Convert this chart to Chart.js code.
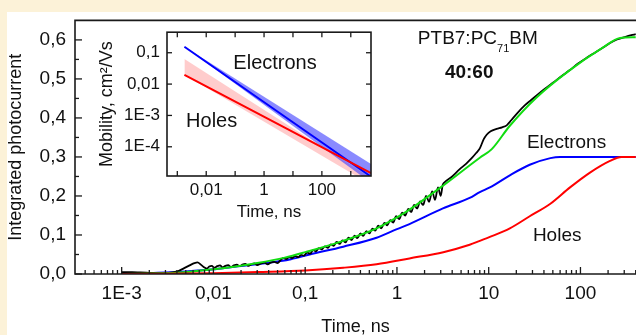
<!DOCTYPE html>
<html><head><meta charset="utf-8">
<script src="https://cdn.jsdelivr.net/npm/chart.js@4.4.1/dist/chart.umd.min.js"></script>
<style>
html,body{margin:0;padding:0;background:#fcf2d8;width:636px;height:335px;overflow:hidden;}
#main{position:absolute;left:0;top:0;width:636px;height:335px;}
#inset{position:absolute;left:95px;top:15px;width:285px;height:210px;}
</style></head><body>
<canvas id="main" width="636" height="335"></canvas>
<canvas id="inset" width="285" height="210"></canvas>
<script>
// ---------- main plot data (time in ns, integrated photocurrent) ----------
const electronsT = [0.001, 0.002, 0.004, 0.007, 0.01, 0.016, 0.038, 0.07, 0.112, 0.26, 0.6, 1, 1.37, 3.17, 6.2, 8, 10.3, 17, 28, 47, 60, 100, 400];
const electronsQ = [0.0, 0.002, 0.005, 0.009, 0.012, 0.018, 0.028, 0.038, 0.05, 0.07, 0.093, 0.115, 0.128, 0.168, 0.195, 0.21, 0.222, 0.253, 0.28, 0.297, 0.30, 0.30, 0.30];

const holesT = [0.001, 0.01, 0.03, 0.1, 0.26, 0.6, 1.37, 3.2, 6.2, 8, 10.3, 17, 28, 47, 77, 127, 210, 280, 400];
const holesQ = [0.0, 0.002, 0.005, 0.009, 0.016, 0.025, 0.04, 0.056, 0.075, 0.085, 0.095, 0.117, 0.148, 0.18, 0.222, 0.26, 0.29, 0.30, 0.30];

const fitT = [0.001, 0.004, 0.01, 0.016, 0.03, 0.06, 0.1, 0.26, 0.6, 1, 1.37, 3.2, 8, 10.8, 17, 33, 76, 175, 270, 400];
const fitQ = [0.0, 0.003, 0.012, 0.018, 0.028, 0.042, 0.056, 0.085, 0.117, 0.145, 0.165, 0.227, 0.298, 0.32, 0.38, 0.452, 0.522, 0.58, 0.605, 0.607];

const expT = [0.001, 0.0013, 0.0016, 0.002, 0.0025, 0.003, 0.0036, 0.0042, 0.0048, 0.0055, 0.0062, 0.0067, 0.0073, 0.0078, 0.0085, 0.009, 0.0096, 0.0102, 0.011, 0.0118, 0.0126, 0.0135, 0.0145, 0.0155, 0.0167, 0.018, 0.0193, 0.0207, 0.0222, 0.024, 0.026, 0.028, 0.03, 0.033, 0.036, 0.039, 0.042, 0.046, 0.05, 0.054, 0.058, 0.062, 0.067, 0.072, 0.078, 0.084, 0.09, 0.097, 0.105, 0.113, 0.122, 0.131, 0.141, 0.152, 0.164, 0.177, 0.19, 0.205, 0.22, 0.237, 0.255, 0.275, 0.296, 0.32, 0.345, 0.37, 0.4, 0.43, 0.465, 0.5, 0.54, 0.58, 0.625, 0.675, 0.73, 0.785, 0.845, 0.91, 0.98, 1.06, 1.14, 1.23, 1.33, 1.43, 1.54, 1.66, 1.79, 1.93, 2.08, 2.24, 2.42, 2.6, 2.8, 3.0, 3.15, 3.3, 4.0, 4.8, 5.7, 6.6, 7.3, 8.0, 8.8, 9.5, 10.5, 12.2, 14, 15.7, 17, 18.3, 21, 24.7, 29, 33, 40, 50, 62, 76, 95, 120, 145, 175, 210, 250, 310, 400];
const expQ = [0.005, 0.005, 0.004, 0.003, 0.002, 0.002, 0.004, 0.008, 0.015, 0.022, 0.028, 0.03, 0.024, 0.018, 0.014, 0.019, 0.021, 0.016, 0.02, 0.022, 0.017, 0.021, 0.023, 0.018, 0.022, 0.024, 0.02, 0.024, 0.026, 0.021, 0.025, 0.027, 0.023, 0.027, 0.029, 0.025, 0.029, 0.031, 0.028, 0.036, 0.041, 0.038, 0.043, 0.041, 0.046, 0.043, 0.049, 0.047, 0.055, 0.052, 0.061, 0.058, 0.066, 0.063, 0.071, 0.067, 0.076, 0.072, 0.082, 0.077, 0.086, 0.081, 0.093, 0.087, 0.098, 0.092, 0.104, 0.098, 0.11, 0.104, 0.116, 0.111, 0.124, 0.117, 0.131, 0.125, 0.138, 0.132, 0.148, 0.141, 0.157, 0.15, 0.167, 0.159, 0.177, 0.168, 0.186, 0.177, 0.2, 0.185, 0.212, 0.19, 0.222, 0.2, 0.228, 0.235, 0.25, 0.268, 0.283, 0.298, 0.31, 0.322, 0.345, 0.357, 0.366, 0.372, 0.376, 0.381, 0.39, 0.399, 0.415, 0.432, 0.446, 0.457, 0.473, 0.49, 0.507, 0.522, 0.54, 0.556, 0.568, 0.58, 0.592, 0.601, 0.608, 0.615];

const mainXTicks = [0.001, 0.01, 0.1, 1, 10, 100];
const mainXLabels = ['1E-3', '0,01', '0,1', '1', '10', '100'];
const mainYTicks = [0, 0.1, 0.2, 0.3, 0.4, 0.5, 0.6];
const mainYLabels = ['0,0', '0,1', '0,2', '0,3', '0,4', '0,5', '0,6'];

// ---------- inset data (mobility, cm2/Vs vs time, ns) ----------
const insetT = [0.00176, 5000];
const muElectrons = [0.155, 1.12e-5];
const muElectronsHi = [0.155, 2.8e-5];
const muElectronsLo = [0.155, 7.1e-6];
const muHoles = [0.0197, 1.45e-5];
const muHolesHi = [0.063, 1.0e-5];
const muHolesLo = [0.0197, 6.2e-6];

const insetXTicks = [0.01, 1, 100];
const insetXLabels = ['0,01', '1', '100'];
const insetYTicks = [0.1, 0.01, 0.001, 0.0001];
const insetYLabels = ['0,1', '0,01', '1E-3', '1E-4'];

// ---------- helpers ----------
const FONT = '"Liberation Sans", Arial, Helvetica, sans-serif';
const INK = '#111';
const pts = (ts, vs) => ts.map((t, i) => ({x: t, y: vs[i]}));
function lineDs(label, ts, vs, color, width, order) {
  return {label, data: pts(ts, vs), borderColor: color, borderWidth: width, showLine: true,
    pointRadius: 0, fill: false, cubicInterpolationMode: 'monotone', order};
}
function tick(ctx, x1, y1, x2, y2) { ctx.beginPath(); ctx.moveTo(x1, y1); ctx.lineTo(x2, y2); ctx.stroke(); }
function drawParts(ctx, x, y, parts) {
  let cx = x;
  for (const [txt, size, dy, weight] of parts) {
    ctx.font = (weight ? weight + ' ' : '') + size + 'px ' + FONT;
    ctx.fillText(txt, cx, y + dy);
    cx += ctx.measureText(txt).width;
  }
}

// ---------- main chart ----------
const mainDecor = {
  id: 'mainDecor',
  beforeDraw(chart) {
    const ctx = chart.ctx;
    ctx.save();
    ctx.fillStyle = '#fcf2d8';
    ctx.fillRect(0, 0, chart.width, chart.height);
    ctx.fillStyle = '#ffffff';
    ctx.fillRect(7, 12, chart.width - 7, chart.height - 12);
    ctx.restore();
  },
  afterDatasetsDraw(chart) {
    const {ctx, chartArea: a, scales: {x, y}} = chart;
    ctx.save();
    ctx.strokeStyle = '#1a1a1a';
    ctx.lineWidth = 1.6;
    ctx.beginPath();
    ctx.moveTo(a.right + 2, a.top); ctx.lineTo(a.left, a.top);
    ctx.lineTo(a.left, a.bottom); ctx.lineTo(a.right + 2, a.bottom);
    ctx.stroke();
    ctx.lineWidth = 1.3;
    for (const v of mainYTicks) {
      const py = y.getPixelForValue(v);
      tick(ctx, a.left, py, a.left + 7, py);
      const pm = y.getPixelForValue(v + 0.05);
      if (pm > a.top) tick(ctx, a.left, pm, a.left + 4, pm);
    }
    for (let d = -4; d <= 2; d++) {
      for (let k = 1; k <= 9; k++) {
        const v = k * Math.pow(10, d);
        if (v < x.min || v > x.max) continue;
        const px = x.getPixelForValue(v);
        tick(ctx, px, a.bottom, px, a.bottom - (k === 1 ? 7 : 4));
      }
    }
    ctx.restore();
  },
  afterDraw(chart) {
    const {ctx, scales: {x, y}} = chart;
    ctx.save();
    ctx.fillStyle = INK;
    ctx.textBaseline = 'alphabetic';
    ctx.textAlign = 'left';
    const notes = [
      {t: 1.69, q: 0.589, parts: [['PTB7:PC', 19, 0, ''], ['71', 11, 8, ''], ['BM', 19, 0, '']]},
      {t: 3.33, q: 0.503, parts: [['40:60', 19, 0, 'bold']]},
      {t: 26.1, q: 0.324, parts: [['Electrons', 19, 0, '']]},
      {t: 30.3, q: 0.085, parts: [['Holes', 19, 0, '']]}
    ];
    for (const n of notes) drawParts(ctx, x.getPixelForValue(n.t), y.getPixelForValue(n.q), n.parts);
    ctx.restore();
  }
};

new Chart(document.getElementById('main'), {
  type: 'scatter',
  data: {datasets: [
    lineDs('Experiment', expT, expQ, '#000000', 1.8, 2),
    lineDs('Fit', fitT, fitQ, '#11dd11', 2, 1),
    lineDs('Electrons', electronsT, electronsQ, '#0000ff', 2, 3),
    lineDs('Holes', holesT, holesQ, '#ff0000', 2, 0)
  ]},
  options: {
    responsive: false, animation: false, devicePixelRatio: 1,
    layout: {padding: {left: 0, top: 14, right: 0, bottom: 0}},
    plugins: {legend: {display: false}, tooltip: {enabled: false}},
    scales: {
      x: {
        type: 'logarithmic', min: 3.1e-4, max: 403, bounds: 'data',
        afterBuildTicks(s) { s.ticks = mainXTicks.map(v => ({value: v})); },
        afterFit(s) { s.height = 61; },
        grid: {display: false, drawTicks: false}, border: {display: false},
        ticks: {autoSkip: false, maxRotation: 0, padding: 8, color: INK,
          font: {family: FONT, size: 19}, callback: (v, i) => mainXLabels[i]},
        title: {display: true, text: 'Time, ns', color: INK,
          font: {family: FONT, size: 18, lineHeight: 0.9}, padding: {top: 0, bottom: 0}}
      },
      y: {
        type: 'linear', min: 0, max: 0.65, bounds: 'data',
        afterBuildTicks(s) { s.ticks = mainYTicks.map(v => ({value: v})); },
        afterFit(s) { s.width = 75; },
        grid: {display: false, drawTicks: false}, border: {display: false},
        ticks: {autoSkip: false, padding: 9, color: INK,
          font: {family: FONT, size: 19}, callback: (v, i) => mainYLabels[i]},
        title: {display: true, text: 'Integrated photocurrent', color: INK,
          font: {family: FONT, size: 18, lineHeight: 1}, padding: {top: 7, bottom: 0}}
      }
    }
  },
  plugins: [mainDecor]
});

// ---------- inset chart ----------
const insetDecor = {
  id: 'insetDecor',
  beforeDatasetsDraw(chart) {
    const {ctx, chartArea: a} = chart;
    ctx.save();
    ctx.fillStyle = '#ffffff';
    ctx.fillRect(a.left, a.top, a.right - a.left, a.bottom - a.top);
    ctx.restore();
  },
  afterDatasetsDraw(chart) {
    const {ctx, chartArea: a, scales: {x, y}} = chart;
    ctx.save();
    ctx.strokeStyle = '#1a1a1a';
    ctx.lineWidth = 1.6;
    ctx.strokeRect(a.left, a.top, a.right - a.left, a.bottom - a.top);
    ctx.lineWidth = 1.3;
    for (const v of [0.1, 0.01, 0.001, 0.0001]) {
      const py = y.getPixelForValue(v);
      if (py < a.top || py > a.bottom) continue;
      tick(ctx, a.left, py, a.left + 5, py);
      tick(ctx, a.right, py, a.right - 5, py);
    }
    for (let d = -3; d <= 3; d++) {
      const v = Math.pow(10, d);
      const px = x.getPixelForValue(v);
      if (px < a.left || px > a.right) continue;
      tick(ctx, px, a.bottom, px, a.bottom - 5);
      tick(ctx, px, a.top, px, a.top + 5);
    }
    ctx.restore();
  },
  afterDraw(chart) {
    const {ctx, scales: {x, y}} = chart;
    ctx.save();
    ctx.fillStyle = INK;
    ctx.textBaseline = 'alphabetic';
    ctx.textAlign = 'left';
    const notes = [
      {t: 0.0869, m: 0.0297, parts: [['Electrons', 20, 0, '']]},
      {t: 0.00201, m: 4.16e-4, parts: [['Holes', 20, 0, '']]}
    ];
    for (const n of notes) drawParts(ctx, x.getPixelForValue(n.t), y.getPixelForValue(n.m), n.parts);
    ctx.restore();
  }
};

function bandDs(ts, vs, color, fill, order) {
  return {data: pts(ts, vs), borderWidth: 0, borderColor: 'rgba(0,0,0,0)', backgroundColor: color,
    showLine: true, pointRadius: 0, fill, order};
}

new Chart(document.getElementById('inset'), {
  type: 'scatter',
  data: {datasets: [
    lineDs('Holes', insetT, muHoles, '#ff0000', 2, 0),
    lineDs('Electrons', insetT, muElectrons, '#0000ff', 2, 1),
    bandDs(insetT, muElectronsHi, 'rgba(60,60,255,0.6)', '+1', 2),
    bandDs(insetT, muElectronsLo, 'rgba(0,0,0,0)', false, 2),
    bandDs(insetT, muHolesHi, 'rgba(255,0,0,0.2)', '+1', 3),
    bandDs(insetT, muHolesLo, 'rgba(0,0,0,0)', false, 3)
  ]},
  options: {
    responsive: false, animation: false, devicePixelRatio: 1,
    layout: {padding: {left: 0, top: 7, right: 9, bottom: 0}},
    plugins: {legend: {display: false}, tooltip: {enabled: false}, filler: {propagate: false}},
    scales: {
      x: {
        type: 'logarithmic', min: 4.4e-4, max: 5000, bounds: 'data',
        afterBuildTicks(s) { s.ticks = insetXTicks.map(v => ({value: v})); },
        afterFit(s) { s.height = 49; },
        grid: {display: false, drawTicks: false}, border: {display: false},
        ticks: {autoSkip: false, maxRotation: 0, padding: 4, color: INK,
          font: {family: FONT, size: 17}, callback: (v, i) => insetXLabels[i]},
        title: {display: true, text: 'Time, ns', color: INK,
          font: {family: FONT, size: 17, lineHeight: 1}, padding: {top: 0, bottom: 4}}
      },
      y: {
        type: 'logarithmic', min: 1.17e-5, max: 0.452, bounds: 'data',
        afterBuildTicks(s) { s.ticks = insetYTicks.map(v => ({value: v})); },
        afterFit(s) { s.width = 72; },
        grid: {display: false, drawTicks: false}, border: {display: false},
        ticks: {autoSkip: false, padding: 7, color: INK,
          font: {family: FONT, size: 17}, callback: (v, i) => insetYLabels[i]},
        title: {display: true, text: 'Mobility, cm²/Vs', color: INK,
          font: {family: FONT, size: 18, lineHeight: 1}, padding: {top: 3, bottom: 0}}
      }
    }
  },
  plugins: [insetDecor]
});
</script>
</body></html>
